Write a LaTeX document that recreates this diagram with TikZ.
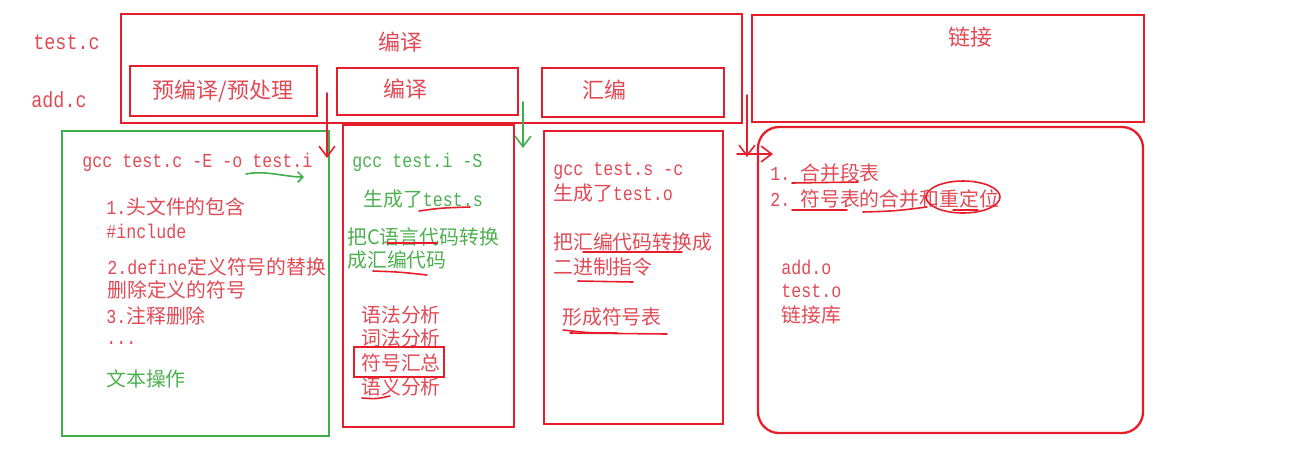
\documentclass[tikz,border=0pt]{standalone}
\usepackage{fontspec}
\setmainfont{Noto Sans CJK SC}
\setmonofont[FakeStretch=0.84]{Liberation Mono}
\usetikzlibrary{arrows.meta,fit}
\definecolor{penred}{HTML}{E61E2B}
\definecolor{inkred}{HTML}{E04A55}
\definecolor{pengreen}{HTML}{3DAE4B}
\definecolor{inkgreen}{HTML}{4DB050}

\begin{document}
\begin{tikzpicture}[x=0.02cm,y=-0.02cm,
  font=\fontsize{11.3}{13}\selectfont,
  stage/.style={draw=penred,line width=1.3pt,inner sep=0pt},
  txt/.style={anchor=west,inner sep=0pt,text=inkred},
  gtxt/.style={txt,text=inkgreen},
  head/.style={inner sep=0pt,text=inkred,font=\fontsize{12.5}{14}\selectfont},
  scribble/.style={penred,line width=0.9pt,line cap=round},
  >={Straight Barb[length=6pt,width=9pt]}]
\useasboundingbox (0,0) rectangle (1302,458);

% ---------- sources ----------
\node[txt,font=\fontsize{12.5}{14}\selectfont] (srcT) at (33,42) {\texttt{test.c}};
\node[txt,font=\fontsize{12.5}{14}\selectfont] (srcA) at (31,100) {\texttt{add.c}};

% ---------- stage boxes ----------
\node[stage,fit={(121,14) (742,123)}] (compile) {};
\node[stage,fit={(130,66) (317,116)}] (pre) {};
\node[stage,fit={(337,68) (518,115)}] (cc) {};
\node[stage,fit={(542,68) (724,117)}] (asm) {};
\node[stage,fit={(752,15) (1144,122)}] (link) {};
\node[head] (compileT) at (400,42) {编译};
\node[head] (preT) at (223,91) {预编译/预处理};
\node[head] (ccT) at (405,89) {编译};
\node[head] (asmT) at (604,90) {汇编};
\node[head] (linkT) at (970,37) {链接};

% ---------- what each stage does ----------
\node[stage,draw=pengreen,fit={(62,131) (329,436)}] (preBody) {};
\node[stage,fit={(343,125) (514,427)}] (ccBody) {};
\node[stage,fit={(544,131) (723,424)}] (asmBody) {};
\node[stage,rounded corners=12,fit={(758,127) (1143,433)}] (linkBody) {};

% preprocessing
\node[txt] (gccE) at (82,162) {\texttt{gcc test.c -E -o test.i}};
\node[txt] (inc1) at (106,207) {\texttt{1.}头文件的包含};
\node[txt] (inc2) at (106,231) {\texttt{\#include}};
\node[txt] (def1) at (107,267) {\texttt{2.define}定义符号的替换};
\node[txt] (def2) at (107,290) {删除定义的符号};
\node[txt] (cmt) at (106,316) {\texttt{3.}注释删除};
\node[txt] (dots) at (106,343) {\texttt{...}};
\node[gtxt] (textop) at (106,379) {文本操作};

% compiling
\node[gtxt] (gccS) at (352,162) {\texttt{gcc test.i -S}};
\node[gtxt] (genS) at (363,199) {生成了\texttt{test.s}};
\node[gtxt] (toAsm1) at (347,237) {把C语言代码转换};
\node[gtxt] (toAsm2) at (347,260) {成汇编代码};
\node[txt] (syn) at (361,315) {语法分析};
\node[txt] (lex) at (361,338) {词法分析};
\node[txt] (sym) at (361,363) {符号汇总};
\node[txt] (sem) at (361,387) {语义分析};
\draw[stage] (354,347) rectangle (444,377);

% assembling
\node[txt] (gccC) at (553,171) {\texttt{gcc test.s -c}};
\node[txt] (genO) at (553,193) {生成了\texttt{test.o}};
\node[txt] (toBin1) at (553,242) {把汇编代码转换成};
\node[txt] (toBin2) at (553,267) {二进制指令};
\node[txt] (symTab) at (562,317) {形成符号表};

% linking
\node[txt] (merge1) at (770,173) {\texttt{1. }合并段表};
\node[txt] (merge2) at (770,199) {\texttt{2. }符号表的合并和重定位};
\node[txt] (objAdd) at (781,267) {\texttt{add.o}};
\node[txt] (objTest) at (781,291) {\texttt{test.o}};
\node[txt] (libs) at (781,315) {链接库};

% ---------- hand drawn arrows ----------
\coordinate (preOut) at (327,93);
\coordinate (preIn) at (327,158);
\coordinate (ccOut) at (523,102);
\coordinate (ccIn) at (523,148);
\coordinate (asmOut) at (747,95);
\coordinate (asmDown) at (747,157);
\coordinate (linkFrom) at (737,154);
\coordinate (linkIn) at (773,154);
\draw[scribble,->] (preOut) -- (preIn);
\draw[scribble,pengreen,->] (ccOut) -- (ccIn);
\draw[scribble,->] (asmOut) -- (asmDown);
\draw[scribble,->] (linkFrom) -- (linkIn);
\draw[scribble,pengreen,-{Straight Barb[length=3pt,width=6pt]}]
  (246,174) .. controls (265,170) and (285,177) .. (304,177);

% ---------- underlines ----------
\draw[scribble] (419,211) .. controls (440,208) .. (470,207);
\draw[scribble] (387,243) -- (437,243);
\draw[scribble] (373,271) .. controls (400,272) .. (427,275);
\draw[scribble] (362,398) .. controls (376,399) .. (390,396);
\draw[scribble] (583,252) -- (682,252);
\draw[scribble] (578,281) -- (633,282);
\draw[scribble] (563,330) .. controls (590,333) .. (617,333);
\draw[scribble] (570,333) -- (667,334);
\draw[scribble] (792,183) -- (858,182);
\draw[scribble] (792,210) -- (847,210);
\draw[scribble] (863,212) .. controls (895,211) .. (927,207);
\draw[scribble] (953,210) -- (978,210);
\draw[scribble] (963,197) ellipse [x radius=37,y radius=16];
\end{tikzpicture}
\end{document}
